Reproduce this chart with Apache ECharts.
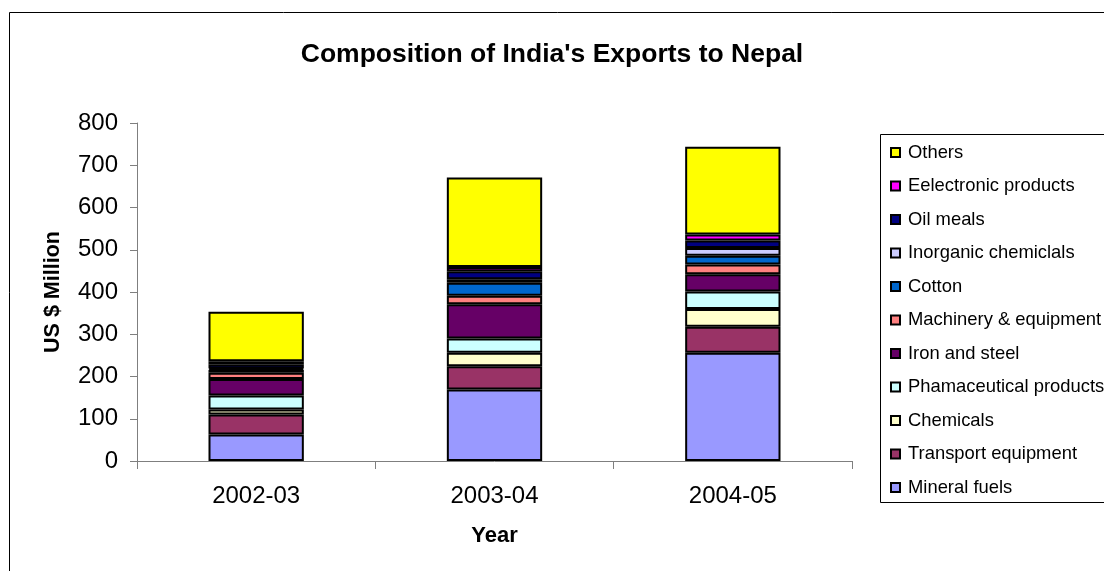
<!DOCTYPE html>
<html>
<head>
<meta charset="utf-8">
<script src="https://cdn.jsdelivr.net/npm/echarts@6/dist/echarts.min.js"></script>
<style>
  html, body { margin: 0; padding: 0; background: #fff; }
  #chart { width: 1104px; height: 571px; }
</style>
</head>
<body>
<div id="chart"></div>
<script>
// categories and values (US $ million), bottom of stack first
const years = ['2002-03', '2003-04', '2004-05'];
const mineralFuels = [63, 169, 256];
const transportEquipment = [47, 55, 62];
const chemicals = [12, 32, 42];
const pharmaProducts = [33, 34, 41];
const ironSteel = [39, 81, 41];
const machinery = [15, 20, 23];
const cotton = [7, 31, 21];
const inorganicChem = [3, 8, 18];
const oilMeals = [10, 19, 18];
const electronics = [7, 10, 14];
const others = [117, 212, 208];
const yTicks = { min: 0, max: 800, step: 100 };

const seriesDefs = [
  ['Mineral fuels', mineralFuels, '#9999FF'],
  ['Transport equipment', transportEquipment, '#993366'],
  ['Chemicals', chemicals, '#FFFFCC'],
  ['Phamaceutical products', pharmaProducts, '#CCFFFF'],
  ['Iron and steel', ironSteel, '#660066'],
  ['Machinery & equipment', machinery, '#FF8080'],
  ['Cotton', cotton, '#0066CC'],
  ['Inorganic chemiclals', inorganicChem, '#CCCCFF'],
  ['Oil meals', oilMeals, '#000080'],
  ['Eelectronic products', electronics, '#FF00FF'],
  ['Others', others, '#FFFF00']
];

const font = 'Liberation Sans, Arial, sans-serif';
const chart = echarts.init(document.getElementById('chart'));

const option = {
  backgroundColor: '#fff',
  animation: false,
  textStyle: { fontFamily: font, color: '#000' },
  title: {
    text: "Composition of India's Exports to Nepal",
    left: 'center',
    top: 36,
    textStyle: { fontFamily: font, fontSize: 26.5, fontWeight: 'bold', color: '#000' }
  },
  graphic: [
    { type: 'rect', shape: { x: 9.5, y: 12.5, width: 1200, height: 700 },
      style: { fill: 'none', stroke: '#000', lineWidth: 1 }, silent: true },
    { type: 'rect', shape: { x: 880.5, y: 134.5, width: 300, height: 368 },
      style: { fill: 'none', stroke: '#000', lineWidth: 1 }, silent: true }
  ],
  legend: {
    orient: 'vertical',
    left: 890,
    top: 142.5,
    padding: 0,
    itemWidth: 9,
    itemHeight: 9,
    itemGap: 13.5,
    icon: 'rect',
    itemStyle: { borderColor: '#000', borderWidth: 2 },
    textStyle: { fontFamily: font, fontSize: 18.4, color: '#000', lineHeight: 20, padding: [0, 0, 0, 3] },
    data: seriesDefs.map(d => d[0]).reverse()
  },
  grid: { left: 137, right: 252, top: 123, bottom: 110 },
  xAxis: {
    type: 'category',
    data: years,
    name: 'Year',
    nameLocation: 'middle',
    nameGap: 64,
    nameTextStyle: { fontFamily: font, fontSize: 22, fontWeight: 'bold', color: '#000' },
    axisLine: { lineStyle: { color: '#7f7f7f', width: 1 } },
    axisTick: { show: true, length: 8, lineStyle: { color: '#7f7f7f' } },
    axisLabel: { fontFamily: font, fontSize: 24, color: '#000', margin: 23 }
  },
  yAxis: {
    type: 'value',
    min: yTicks.min,
    max: yTicks.max,
    interval: yTicks.step,
    name: 'US $ Million',
    nameLocation: 'middle',
    nameGap: 73,
    nameTextStyle: { fontFamily: font, fontSize: 21.5, fontWeight: 'bold', color: '#000' },
    axisLine: { show: true, lineStyle: { color: '#7f7f7f', width: 1 } },
    axisTick: { show: true, length: 7, lineStyle: { color: '#7f7f7f' } },
    splitLine: { show: false },
    axisLabel: { fontFamily: font, fontSize: 24, color: '#000', margin: 19 }
  },
  series: seriesDefs.map(([name, values, color]) => ({
    name: name,
    type: 'bar',
    stack: 'total',
    barWidth: '40%',
    data: values,
    itemStyle: { color: color, borderColor: '#000', borderWidth: 2 }
  }))
};

chart.setOption(option);
</script>
</body>
</html>
